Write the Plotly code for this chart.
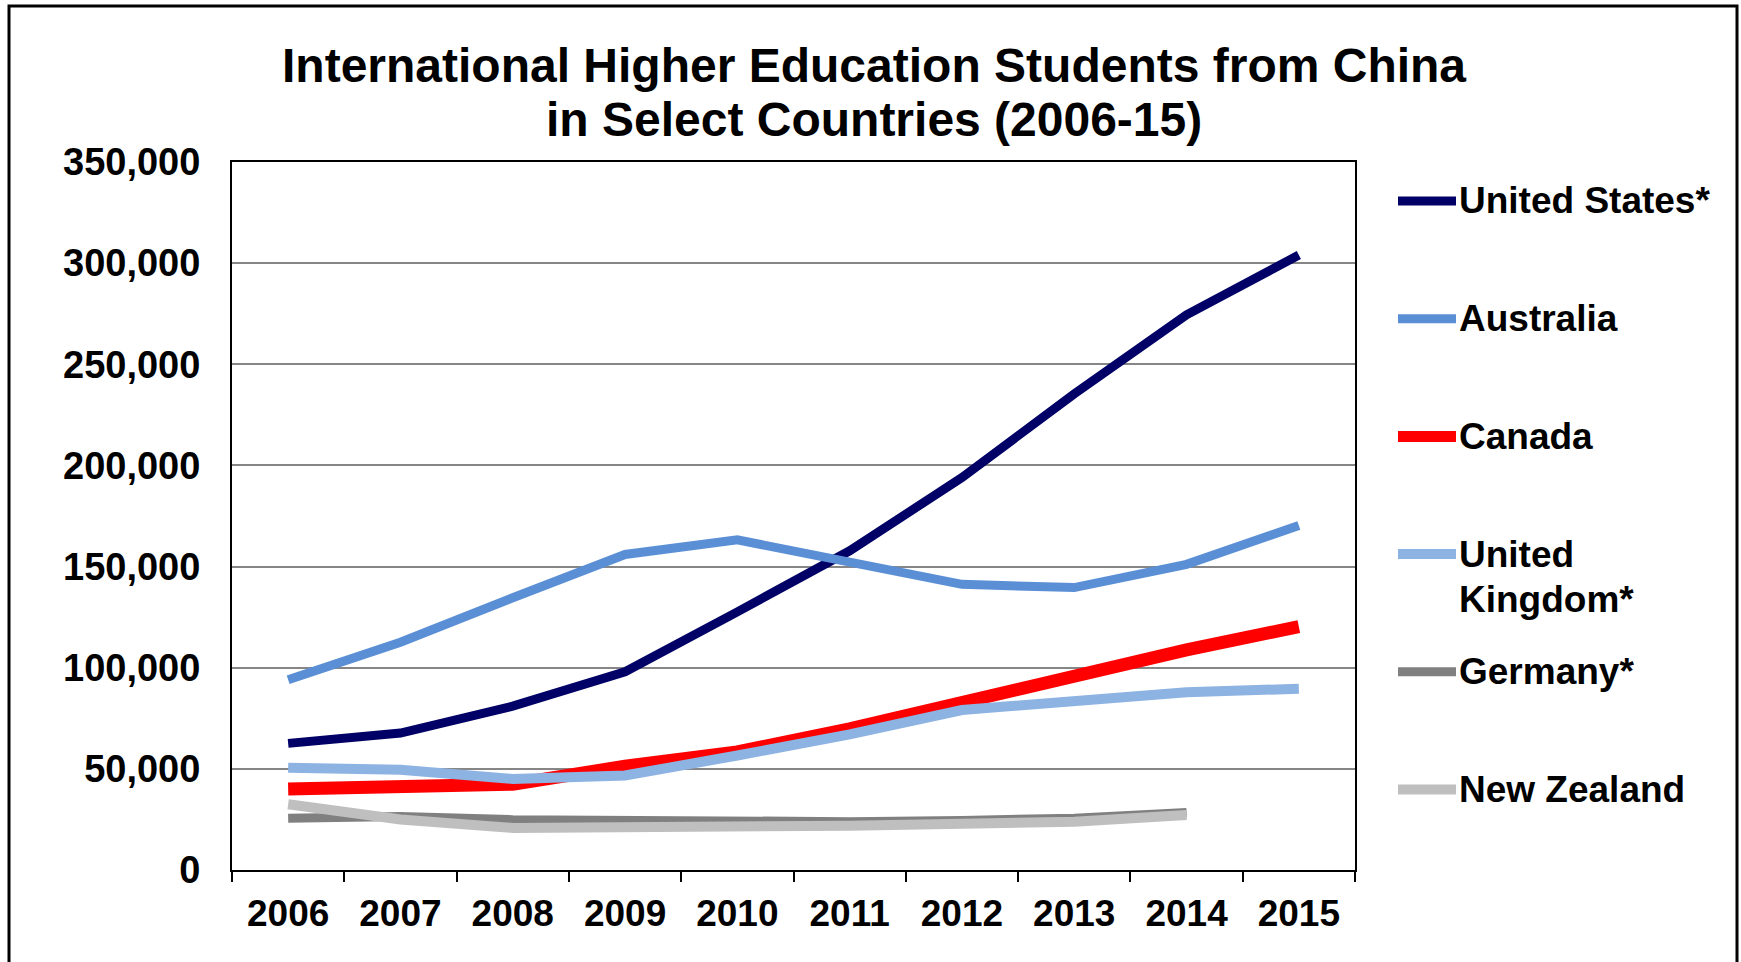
import plotly.graph_objects as go

# Chinese higher-education students by host country, 2006-2015
years = ["2006", "2007", "2008", "2009", "2010", "2011", "2012", "2013", "2014", "2015"]
united_states = [62600, 67700, 81000, 98000, 127600, 157800, 194000, 235400, 274500, 304000]
australia = [94000, 112600, 134600, 156000, 163200, 152700, 141200, 139600, 151100, 170300]
canada = [40000, 41500, 42400, 51300, 58400, 69800, 83000, 96700, 108800, 120300]
united_kingdom = [50500, 49500, 45000, 46700, 56600, 67000, 79100, 83500, 87900, 89600]
germany = [25600, 26500, 24900, 24300, 23900, 23900, 24500, 25600, 28400, None]
new_zealand = [32500, 25000, 20800, 20800, 20800, 21900, 22900, 23800, 27200, None]

series_names = ["United States*", "Australia", "Canada", "United<br>Kingdom*", "Germany*", "New Zealand"]
series_values = [united_states, australia, canada, united_kingdom, germany, new_zealand]
series_colors = ["#000066", "#5A8FD6", "#FF0000", "#8DB3E2", "#808080", "#BFBFBF"]
series_widths = [9, 9, 13, 10, 9, 10]

W, H = 1741, 962
L, R, T, B = 232, 1355, 162, 870  # plot area edges in pixels

def px(x):
    return (x - L) / (R - L)

def py(y):
    return (B - y) / (B - T)

FONT = "Liberation Sans, Arial, sans-serif"

fig = go.Figure()
for name, vals, color, width in zip(series_names, series_values, series_colors, series_widths):
    fig.add_trace(go.Scatter(
        x=years, y=vals, mode="lines", name=name.replace("<br>", " "),
        line=dict(color=color, width=width), showlegend=False,
    ))

# Hand-drawn legend on the right: a line swatch and a bold label per series
legend_y = [201, 318.7, 436.4, 554.1, 671.8, 789.5]
shapes = []
annotations = []
for name, color, width, ly in zip(series_names, series_colors, series_widths, legend_y):
    shapes.append(dict(type="line", xref="paper", yref="paper",
                       x0=px(1398), x1=px(1456), y0=py(ly), y1=py(ly),
                       line=dict(color=color, width=min(width, 11))))
    lines = name.split("<br>")
    for i, part in enumerate(lines):
        annotations.append(dict(
            text=part, xref="paper", yref="paper", x=px(1457), y=py(ly + i * 45),
            xanchor="left", yanchor="middle", showarrow=False,
            font=dict(family=FONT, size=37, color="black", weight="bold"),
        ))

# Two-line chart title
for text, ty in [("International Higher Education Students from China", 66),
                 ("in Select Countries (2006-15)", 120)]:
    annotations.append(dict(
        text=text, xref="paper", yref="paper", x=px(874), y=py(ty),
        xanchor="center", yanchor="middle", showarrow=False,
        font=dict(family=FONT, size=48, color="black", weight="bold"),
    ))

# Outer frame around the whole chart
shapes.append(dict(type="rect", xref="paper", yref="paper",
                   x0=px(9), x1=px(1737), y0=py(975), y1=py(6),
                   line=dict(color="black", width=3), layer="above"))

fig.update_layout(
    width=W, height=H,
    margin=dict(l=L, r=W - R, t=T, b=H - B, pad=0),
    paper_bgcolor="white", plot_bgcolor="white",
    font=dict(family=FONT, size=37, color="black", weight="bold"),
    shapes=shapes, annotations=annotations,
)
fig.update_xaxes(
    type="category", range=[-0.5, 9.5], tickson="boundaries",
    ticks="outside", ticklen=10, tickwidth=2, tickcolor="black",
    showline=True, linecolor="black", linewidth=2, mirror=True,
    showgrid=False, ticklabelstandoff=10,
    tickfont=dict(family=FONT, size=37, color="black", weight="bold"),
)
fig.update_yaxes(
    range=[0, 350000], dtick=50000, tickformat=",d",
    showline=True, linecolor="black", linewidth=2, mirror=True,
    showgrid=True, gridcolor="#868686", gridwidth=2, zeroline=False,
    ticks="", ticklabelstandoff=22,
    tickfont=dict(family=FONT, size=38, color="black", weight="bold"),
)

fig.write_html("out.html")
